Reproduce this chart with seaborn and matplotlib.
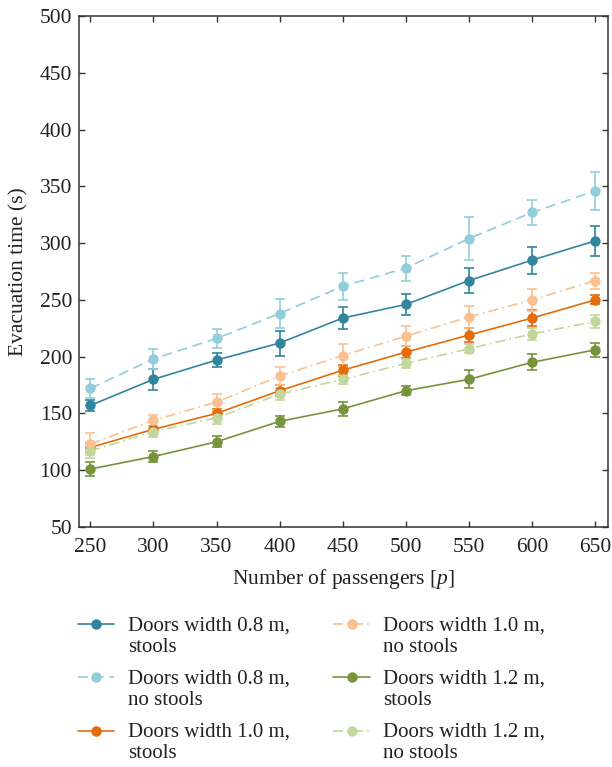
"""Evacuation time vs number of passengers for several door widths."""
import matplotlib
matplotlib.use('Agg')
import matplotlib.pyplot as plt
import pandas as pd
import seaborn as sns

# passengers on the x axis
passengers = [250, 300, 350, 400, 450, 500, 550, 600, 650]

# mean evacuation times (s) and error half-widths
w08_stools = [157, 180, 197, 212, 234, 246, 267, 285, 302]
w08_stools_err = [5, 9, 6, 11, 10, 9.5, 11, 12, 13]
w08_nostools = [172, 198, 216, 238, 262, 278, 304, 327, 346]
w08_nostools_err = [8, 8.5, 8, 13, 12, 11, 19, 11, 17]
w10_stools = [120, 136, 150, 170, 188, 204, 219, 234, 250]
w10_stools_err = [4, 3, 4, 5, 5, 5, 6, 7, 4]
w10_nostools = [123, 144, 160, 183, 201, 218, 235, 250, 267]
w10_nostools_err = [10, 5, 7, 8, 10, 9, 10, 10, 7]
w12_stools = [101, 112, 125, 143, 154, 170, 180, 195, 206]
w12_stools_err = [6, 5, 5, 5, 6, 4, 8, 7, 6]
w12_nostools = [117, 134, 146, 167, 180, 194, 207, 220, 231]
w12_nostools_err = [6, 5, 5, 5, 4, 4, 4, 5, 6]

labels = ['Doors width 0.8 m,\nstools', 'Doors width 0.8 m,\nno stools',
          'Doors width 1.0 m,\nstools', 'Doors width 1.0 m,\nno stools',
          'Doors width 1.2 m,\nstools', 'Doors width 1.2 m,\nno stools']
means = [w08_stools, w08_nostools, w10_stools, w10_nostools, w12_stools, w12_nostools]
errors = [w08_stools_err, w08_nostools_err, w10_stools_err, w10_nostools_err,
          w12_stools_err, w12_nostools_err]

colors = ['#31859C', '#92CDDC', '#E46C0A', '#FAC090', '#77933C', '#C3D69B']
dashes = ['', (6, 3.5), '', (6, 2.5, 1, 2.5), '', (6, 2.5, 1, 2.5)]

# long table for seaborn
df = pd.concat([pd.DataFrame({'passengers': passengers, 'time': m, 'err': e, 'series': lab})
                for lab, m, e in zip(labels, means, errors)], ignore_index=True)

sns.set_theme(style='ticks')
plt.rcParams['font.family'] = ['Liberation Serif', 'DejaVu Serif']
plt.rcParams['mathtext.fontset'] = 'custom'
plt.rcParams['mathtext.it'] = 'Liberation Serif:italic'
plt.rcParams['mathtext.rm'] = 'Liberation Serif'

fig = plt.figure(figsize=(6.12, 7.67), dpi=100)
ax = fig.add_axes([0.129, 0.313, 0.864, 0.666])

# error bars first so markers sit on top
for lab, col in zip(labels, colors):
    sub = df[df['series'] == lab]
    ax.errorbar(sub['passengers'], sub['time'], yerr=sub['err'], fmt='none',
                ecolor=col, elinewidth=1.2, capsize=3.4, capthick=1.2, zorder=2)

sns.lineplot(data=df, x='passengers', y='time', hue='series', style='series',
             palette=dict(zip(labels, colors)), dashes=dict(zip(labels, dashes)),
             markers=dict(zip(labels, ['o'] * 6)), markersize=7.5, markeredgewidth=0,
             linewidth=1.2, ax=ax, zorder=3)

ax.set_xlim(241, 660)
ax.set_ylim(50, 500)
ax.set_xticks(passengers)
ax.set_yticks(range(50, 501, 50))
ax.tick_params(direction='in', top=True, right=True, length=4, width=1,
               labelsize=15.5, colors='#333333', labelcolor='#222222')
ax.tick_params(axis='x', pad=8)
ax.tick_params(axis='y', pad=5)
for side in ['left', 'right', 'top', 'bottom']:
    ax.spines[side].set_visible(True)
    ax.spines[side].set_color('#333333')
    ax.spines[side].set_linewidth(1.1)

ax.set_xlabel('Number of passengers [$p$]', fontsize=15.5, color='#222222', labelpad=7)
ax.set_ylabel('Evacuation time (s)', fontsize=15.5, color='#222222', labelpad=8)

# legend below the plot, two columns, handle lined up with the first text line
handles, labs = ax.get_legend_handles_labels()
if ax.legend_:
    ax.legend_.remove()
leg = fig.legend(handles, labs, loc='upper left', bbox_to_anchor=(0.127, 0.196),
                 ncol=2, frameon=False, fontsize=15, handlelength=1.75,
                 handletextpad=0.65, columnspacing=2.1, labelspacing=0.62,
                 borderaxespad=0, borderpad=0)
for t in leg.get_texts():
    t.set_color('#222222')
    t.set_linespacing(1.16)
for h in leg.legend_handles:
    h.set_ydata([y + 8.8 for y in h.get_ydata()])

fig.savefig('out.png', dpi=100)
